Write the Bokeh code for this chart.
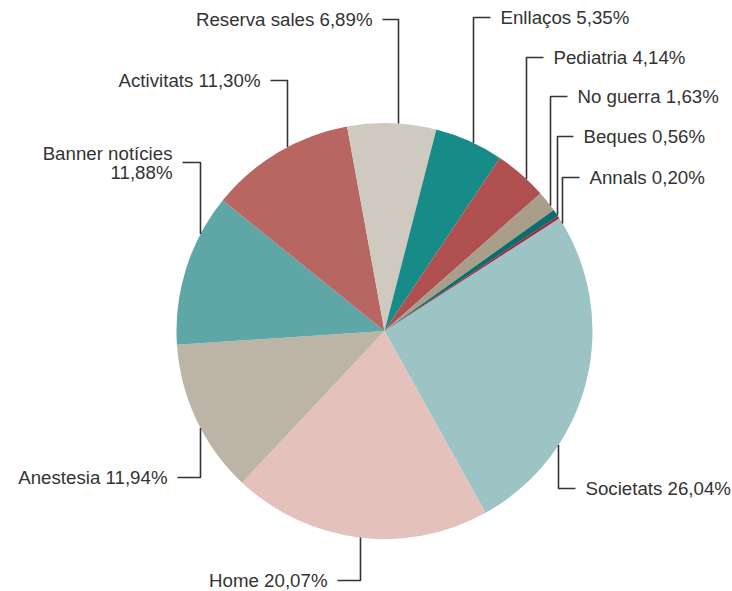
import math
from bokeh.plotting import figure
from bokeh.models import Range1d, ColumnDataSource
from bokeh.embed import file_html
from bokeh.resources import INLINE
from bokeh.core.properties import value

# ---- data ----
categories = ["Societats", "Home", "Anestesia", "Banner notícies", "Activitats",
              "Reserva sales", "Enllaços", "Pediatria", "No guerra", "Beques", "Annals"]
shares = [26.04, 20.07, 11.94, 11.88, 11.30, 6.89, 5.35, 4.14, 1.63, 0.56, 0.20]
label_texts = ["Societats 26,04%", "Home 20,07%", "Anestesia 11,94%",
               "Banner notícies\n11,88%", "Activitats 11,30%", "Reserva sales 6,89%",
               "Enllaços 5,35%", "Pediatria 4,14%", "No guerra 1,63%",
               "Beques 0,56%", "Annals 0,20%"]

# ---- style / layout ----
colors = ["#9dc4c4", "#e4c1bb", "#bdb4a8", "#5fa6a6", "#b86662", "#cfcac0",
          "#178b88", "#b04f4f", "#a89e8a", "#0c6e6a", "#a3203f"]
W, H = 732, 591
CX, CY, R = 384, 330.5, 208          # page pixel coords of the pie
START_DEG = 32.8                      # start angle of the first slice (deg, ccw from +x)

# label layout (page pixels): text anchor x, y, side, leader x
label_x = [585, 327, 167, 172, 260, 372, 500, 553, 577, 583, 589]
label_y = [488, 580, 477, 162, 80, 19, 17, 57, 96, 136, 177]
leader_x = [558, 360, 200, 200, 287, 398, 473, 526, 550, 557, 562]
side = ["r", "l", "l", "l", "l", "l", "r", "r", "r", "r", "r"]

p = figure(width=W, height=H, output_backend="svg", toolbar_location=None,
           x_range=Range1d(0, W), y_range=Range1d(0, H),
           min_border=0, outline_line_color=None)
p.axis.visible = False
p.xgrid.visible = False
p.ygrid.visible = False
p.background_fill_color = "white"
p.border_fill_color = "white"


def Y(y):  # page y -> data y
    return H - y


# wedges
total = sum(shares)
starts, ends = [], []
cum = 0.0
for s in shares:
    a0 = math.radians(START_DEG) - 2 * math.pi * cum / total
    cum += s
    a1 = math.radians(START_DEG) - 2 * math.pi * cum / total
    starts.append(a0)
    ends.append(a1)

src = ColumnDataSource(dict(start=starts, end=ends, color=colors, cat=categories))
p.wedge(x=CX, y=Y(CY), radius=R, start_angle="start", end_angle="end",
        direction="clock", fill_color="color", line_color=None, source=src)

# leader lines and labels
line_col = "#333333"
for i in range(len(categories)):
    lx = leader_x[i]
    ly = label_y[i]
    dx = lx - CX
    dy = math.sqrt(max(R * R - dx * dx, 0.0))
    edge_y = CY - dy if ly < CY else CY + dy
    gap_end = label_x[i] - 10 if side[i] == "r" else label_x[i] + 10
    p.line([lx, lx, gap_end], [Y(edge_y), Y(ly), Y(ly)],
           line_color=line_col, line_width=1.6)
    lines = label_texts[i].split("\n")
    n = len(lines)
    for k, t in enumerate(lines):
        yy = ly + (k - (n - 1) / 2) * 19
        p.text(x=[label_x[i]], y=[Y(yy)], text=[t],
               text_align="left" if side[i] == "r" else "right",
               text_baseline="middle", text_font=value("Liberation Sans"),
               text_font_size="18.7px", text_color="#333333")

open("out.html", "w").write(file_html(p, INLINE))
